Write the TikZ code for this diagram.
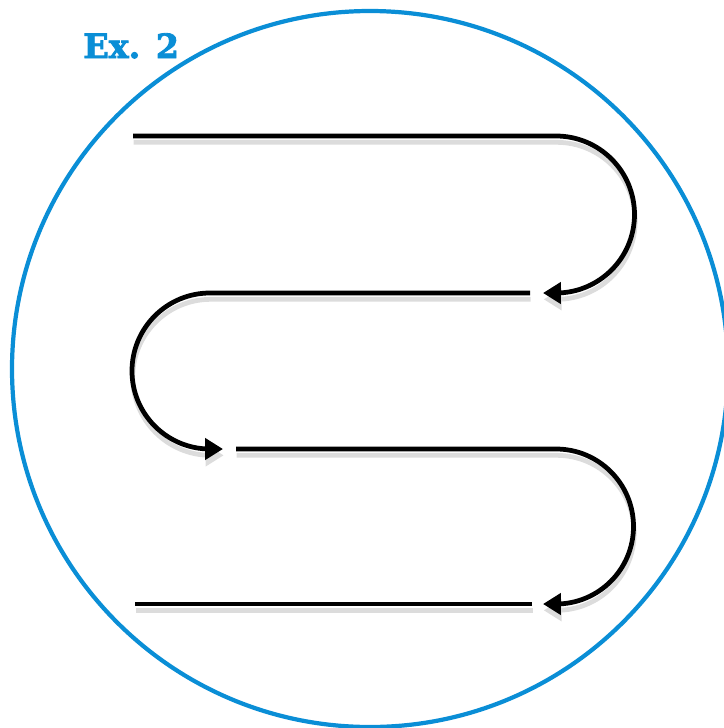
\documentclass[tikz,border=0pt]{standalone}
\usepackage{fontspec}
\usepackage{xcolor}
\usetikzlibrary{arrows.meta}
\newfontfamily\exfont{DejaVu Serif}[BoldFeatures={FakeBold=2.5}]
\definecolor{ringBlue}{HTML}{0A8ED6}
\definecolor{shadeGray}{HTML}{DCDCDC}

\begin{document}
\begin{tikzpicture}[
  x=0.02cm, y=-0.02cm,
  ring/.style={draw=ringBlue, line width=2.4pt},
  lane/.style={draw=black, line width=2.7pt},
  shade/.style={draw=shadeGray, line width=2.7pt},
  tip/.style={-{Triangle[length=0.36cm, width=0.42cm]}},
  tag/.style={font=\exfont\bfseries\fontsize{19}{19}\selectfont, text=ringBlue, anchor=base west, inner sep=0pt},
]

% === Frame ===
\useasboundingbox (0,0) rectangle (724,728);
\draw[ring] (370,369) circle[radius=358];
\node[tag] (title) at (83,58) {Ex. 2};

% === Row ends ===
\coordinate (r1s) at (133,136);
\coordinate (r1e) at (556,136);
\coordinate (r2a) at (543,293);
\coordinate (r2s) at (530,293);
\coordinate (r2e) at (210,293);
\coordinate (r3a) at (223,449);
\coordinate (r3s) at (236,449);
\coordinate (r3e) at (556,449);
\coordinate (r4a) at (543,604);
\coordinate (r4s) at (532,604);
\coordinate (r4e) at (135,604);

% === Serpentine (shadow first, then the black lane) ===
\foreach \sty/\dx/\dy in {shade/0.4pt/-3.6pt, lane/0pt/0pt} {
  \begin{scope}[transform canvas={shift={(\dx,\dy)}}]
    \draw[\sty, tip] (r1s) -- (r1e) arc[start angle=-90, end angle=90, radius=78.5] -- (r2a);
    \draw[\sty, tip] (r2s) -- (r2e) arc[start angle=-90, end angle=-270, radius=78] -- (r3a);
    \draw[\sty, tip] (r3s) -- (r3e) arc[start angle=-90, end angle=90, radius=77.5] -- (r4a);
    \draw[\sty] (r4s) -- (r4e);
  \end{scope}
}

\end{tikzpicture}
\end{document}
